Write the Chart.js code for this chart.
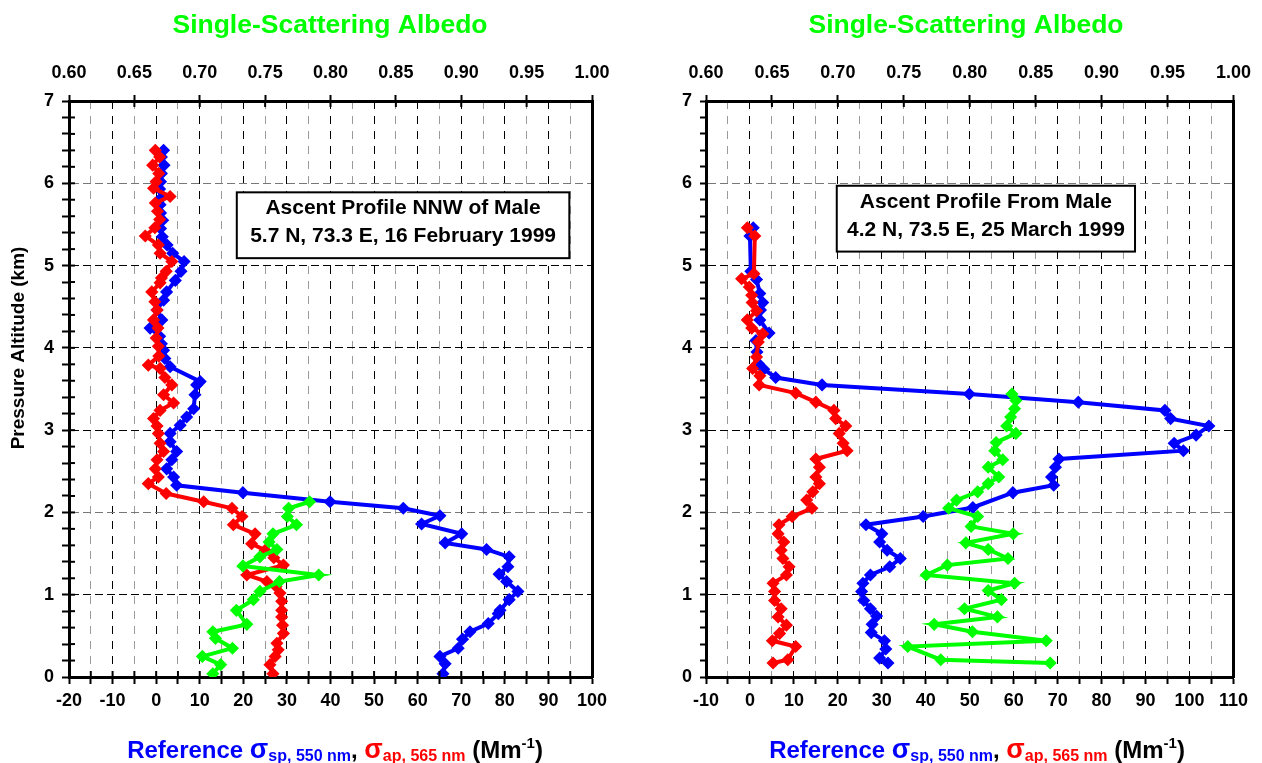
<!DOCTYPE html>
<html><head><meta charset="utf-8">
<script src="https://cdn.jsdelivr.net/npm/chart.js@4.4.0/dist/chart.umd.min.js"></script>
<style>
html,body{margin:0;padding:0;background:#fff;overflow:hidden;}
.wrap{position:absolute;top:0;width:631px;height:763px;}
#wrapL{left:0;} #wrapR{left:631px;}
</style></head><body>
<div class="wrap" id="wrapL"><canvas id="cL"></canvas></div>
<div class="wrap" id="wrapR"><canvas id="cR"></canvas></div>
<script>
const FONT = '"Liberation Sans", Arial, sans-serif';

// ---- Left profile (16 Feb 1999) ----
const leftScatAlt = [6.40,6.32,6.22,6.12,6.02,5.93,5.83,5.74,5.64,5.55,5.45,5.35,5.25,5.15,5.05,4.93,4.82,4.68,4.58,4.46,4.34,4.24,4.14,4.05,3.97,3.87,3.77,3.59,3.55,3.43,3.26,3.16,3.06,2.96,2.86,2.74,2.64,2.53,2.43,2.33,2.24,2.13,2.05,1.96,1.86,1.74,1.63,1.55,1.46,1.34,1.25,1.16,1.04,0.94,0.81,0.77,0.65,0.55,0.46,0.35,0.25,0.16,0.04];
const leftScatVal = [1.7,1.2,1.8,1.2,1.0,0.8,1.3,0.9,1.0,1.5,1.0,1.4,2.5,3.8,6.4,5.7,4.4,2.4,1.7,0.2,1.3,-1.4,0.8,1.2,1.7,2.0,3.2,10.1,9.3,8.9,8.6,7.0,5.5,3.2,3.2,4.7,3.6,2.4,4.0,4.7,19.9,39.9,56.7,65.1,60.9,70.1,66.3,75.8,81.0,80.7,78.7,80.4,83.0,81.0,78.9,78.5,76.2,72.0,70.3,69.3,65.1,66.3,65.8];
const leftAbsAlt = [6.40,6.32,6.22,6.12,6.02,5.94,5.84,5.76,5.66,5.56,5.46,5.36,5.25,5.15,5.05,4.93,4.85,4.79,4.68,4.56,4.46,4.34,4.24,4.12,4.02,3.90,3.79,3.75,3.64,3.55,3.43,3.33,3.24,3.14,3.05,2.96,2.84,2.74,2.64,2.53,2.43,2.35,2.23,2.13,2.05,1.95,1.85,1.74,1.62,1.54,1.45,1.36,1.24,1.16,1.10,1.02,0.92,0.81,0.73,0.63,0.53,0.41,0.33,0.25,0.15,0.04];
const leftAbsVal = [-0.2,0.8,-0.8,0.6,0.0,-0.6,3.2,-0.2,0.3,0.8,-0.3,-2.5,0.5,0.9,3.6,2.3,1.2,0.9,-1.0,-0.3,0.2,-0.6,0.4,0.0,0.5,0.6,-1.8,0.9,2.0,3.6,1.7,4.0,0.9,-0.6,0.2,0.5,0.9,1.7,0.2,-0.2,0.5,-1.8,2.3,10.9,17.4,19.7,17.7,22.7,21.9,25.0,27.0,29.2,20.8,25.4,27.5,28.4,28.8,28.8,28.8,29.0,29.2,27.7,28.0,27.3,26.1,26.8];
const leftAlbAlt = [2.13,2.05,1.95,1.85,1.74,1.64,1.55,1.46,1.35,1.24,1.16,1.04,0.94,0.81,0.64,0.55,0.47,0.35,0.25,0.15,0.04];
const leftAlbVal = [0.784,0.768,0.767,0.774,0.756,0.753,0.759,0.746,0.733,0.791,0.761,0.746,0.741,0.728,0.736,0.710,0.712,0.725,0.702,0.716,0.710];

// ---- Right profile (25 Mar 1999) ----
const rightScatAlt = [5.46,5.36,4.93,4.83,4.66,4.55,4.46,4.34,4.18,4.09,3.95,3.81,3.74,3.64,3.55,3.44,3.34,3.24,3.14,3.05,2.94,2.84,2.75,2.65,2.55,2.43,2.33,2.24,2.06,1.95,1.85,1.74,1.64,1.54,1.44,1.34,1.24,1.14,1.04,0.93,0.83,0.74,0.64,0.54,0.44,0.34,0.23,0.17];
const rightScatVal = [0.75,0.0,0.2,1.5,2.25,2.9,2.4,2.25,4.35,1.35,1.6,1.9,3.15,5.85,16.4,49.9,74.7,94.4,95.7,104.4,101.5,96.5,98.6,70.3,69.5,68.6,69.1,59.8,50.7,39.4,26.4,30.0,29.5,31.2,34.2,31.8,27.4,25.7,25.4,25.9,27.4,28.8,27.8,27.6,30.6,30.9,29.5,31.4];
const rightAbsAlt = [5.46,5.36,4.90,4.84,4.74,4.64,4.55,4.45,4.34,4.24,4.17,4.07,3.89,3.75,3.66,3.55,3.45,3.34,3.24,3.14,3.05,2.96,2.84,2.75,2.65,2.55,2.43,2.35,2.25,2.15,2.05,1.95,1.85,1.74,1.64,1.54,1.44,1.34,1.24,1.14,1.04,0.93,0.83,0.73,0.63,0.53,0.44,0.37,0.21,0.17];
const rightAbsVal = [-0.6,1.1,0.9,-1.9,-0.15,0.4,0.5,1.5,-0.6,0.4,2.9,1.9,1.5,0.6,2.25,2.1,10.4,15.0,19.1,19.5,21.8,20.3,21.2,22.1,15.0,15.8,15.0,15.8,14.3,12.9,14.1,9.6,6.6,6.4,7.7,7.1,7.5,8.9,8.3,5.25,5.6,5.6,7.1,6.4,8.3,6.75,5.1,10.4,8.6,5.25];
const rightAlbAlt = [3.44,3.36,3.26,3.16,3.05,2.96,2.85,2.75,2.64,2.55,2.43,2.35,2.25,2.15,2.05,1.95,1.83,1.74,1.63,1.55,1.44,1.36,1.24,1.14,1.05,0.94,0.83,0.73,0.64,0.55,0.44,0.37,0.21,0.17];
const rightAlbVal = [0.832,0.835,0.834,0.831,0.828,0.835,0.820,0.819,0.825,0.814,0.822,0.814,0.806,0.790,0.784,0.806,0.801,0.833,0.797,0.814,0.829,0.783,0.767,0.834,0.814,0.824,0.796,0.821,0.773,0.802,0.858,0.753,0.778,0.861];

// ---- Axis ranges / labels ----
const leftXRange = [-20, 100];
const rightXRange = [-10, 110];
const albedoRange = [0.60, 1.00];
const altRange = [0, 7];
const topTitle = 'Single-Scattering Albedo';
const yTitle = 'Pressure Altitude (km)';
const leftBoxLines = ['Ascent Profile NNW of Male', '5.7 N, 73.3 E, 16 February 1999'];
const rightBoxLines = ['Ascent Profile From Male', '4.2 N, 73.5 E, 25 March 1999'];

const zip = (alt, val) => alt.map((a, i) => ({x: val[i], y: a}));

const isInt = v => Math.abs(v - Math.round(v)) < 1e-6;

const richPlugin = {
  id: 'rich',
  afterDraw(chart) {
    const o = chart.options.plugins.rich;
    const ctx = chart.ctx;
    const xs = chart.scales.x, ys = chart.scales.y;
    ctx.save();
    // cross ticks (inner parts)
    ctx.strokeStyle = '#000'; ctx.lineWidth = 2;
    const ca = chart.chartArea;
    if (o.crossTop) chart.scales.x2.ticks.forEach(t => {
      const p = chart.scales.x2.getPixelForValue(t.value);
      ctx.beginPath(); ctx.moveTo(p, ca.top); ctx.lineTo(p, ca.top + 6); ctx.stroke();
    });
    if (o.crossBottom) xs.ticks.forEach(t => {
      const p = xs.getPixelForValue(t.value);
      ctx.beginPath(); ctx.moveTo(p, ca.bottom); ctx.lineTo(p, ca.bottom - 6); ctx.stroke();
    });
    if (o.crossLeft) ys.ticks.forEach(t => {
      const p = ys.getPixelForValue(t.value);
      ctx.beginPath(); ctx.moveTo(ca.left, p); ctx.lineTo(ca.left + 6, p); ctx.stroke();
    });
    // annotation box
    const b = o.box;
    const bx0 = xs.getPixelForValue(b.x0), bx1 = xs.getPixelForValue(b.x1);
    const by0 = ys.getPixelForValue(b.y1), by1 = ys.getPixelForValue(b.y0);
    ctx.fillStyle = '#fff'; ctx.fillRect(bx0, by0, bx1 - bx0, by1 - by0);
    ctx.lineWidth = 2; ctx.strokeStyle = '#000';
    ctx.strokeRect(bx0, by0, bx1 - bx0, by1 - by0);
    ctx.fillStyle = '#000'; ctx.textAlign = 'center'; ctx.textBaseline = 'alphabetic';
    ctx.font = 'bold 21px ' + FONT;
    ctx.fillText(b.lines[0], (bx0 + bx1) / 2, by0 + 22);
    ctx.fillText(b.lines[1], (bx0 + bx1) / 2, by0 + 50);
    // top title
    ctx.font = 'bold 26.5px ' + FONT; ctx.fillStyle = '#00ff00';
    ctx.fillText(topTitle, o.titleX, 33);
    // y title
    if (o.showYTitle) {
      ctx.save();
      ctx.translate(24, 348); ctx.rotate(-Math.PI / 2);
      ctx.font = 'bold 19px ' + FONT; ctx.fillStyle = '#000';
      ctx.fillText(yTitle, 0, 0);
      ctx.restore();
    }
    // bottom rich title
    const parts = [
      {t: 'Reference ', s: 24, c: '#0000ff'},
      {t: 'σ', s: 27, c: '#0000ff'},
      {t: 'sp, 550 nm', s: 16, c: '#0000ff', dy: 3},
      {t: ', ', s: 24, c: '#000'},
      {t: 'σ', s: 27, c: '#ff0000'},
      {t: 'ap, 565 nm', s: 16, c: '#ff0000', dy: 3},
      {t: ' (Mm', s: 24, c: '#000'},
      {t: '-1', s: 15, c: '#000', dy: -10},
      {t: ')', s: 24, c: '#000'}
    ];
    let tot = 0;
    parts.forEach(p => { ctx.font = 'bold ' + p.s + 'px ' + FONT; p.w = ctx.measureText(p.t).width; tot += p.w; });
    let x = o.bottomX - tot / 2;
    ctx.textAlign = 'left';
    parts.forEach(p => {
      ctx.font = 'bold ' + p.s + 'px ' + FONT; ctx.fillStyle = p.c;
      ctx.fillText(p.t, x, 758 + (p.dy || 0)); x += p.w;
    });
    ctx.restore();
  }
};

function makeChart(id, cfg) {
  const ds = (label, data, color, xAxisID) => ({
    label, data, xAxisID, yAxisID: 'y', showLine: true, tension: 0,
    borderColor: color, backgroundColor: color, borderWidth: 4,
    pointStyle: 'rectRot', pointRadius: 5.5, pointBorderWidth: 1.5,
    pointBackgroundColor: color, pointBorderColor: color
  });
  const tickFont = {family: FONT, size: 18, weight: 'bold'};
  return new Chart(document.getElementById(id), {
    type: 'scatter',
    data: {datasets: [
      ds('albedo', cfg.alb, '#00ff00', 'x2'),
      ds('abs', cfg.abs, '#ff0000', 'x'),
      ds('scat', cfg.scat, '#0000ff', 'x')
    ]},
    options: {
      responsive: true, maintainAspectRatio: false, animation: false,
      layout: {padding: 0},
      plugins: {legend: {display: false}, tooltip: {enabled: false},
        rich: {box: cfg.box, titleX: cfg.titleX, bottomX: cfg.bottomX, showYTitle: cfg.showYTitle,
               crossTop: true, crossBottom: cfg.cross, crossLeft: cfg.cross}},
      scales: {
        x: {type: 'linear', position: 'bottom', min: cfg.xRange[0], max: cfg.xRange[1],
          afterFit: s => { s.height = 86; },
          ticks: {stepSize: 5, autoSkip: false, maxRotation: 0, minRotation: 0, padding: 6,
            color: '#000', font: tickFont,
            callback: v => (Math.abs(v % 10) < 1e-9 ? String(v) : '')},
          grid: {color: c => (c.tick && Math.abs(c.tick.value % 10) > 1e-9 ? '#9a9a9a' : '#000'),
            lineWidth: 1, tickColor: '#000', tickWidth: 2, tickLength: 7},
          border: {display: true, color: '#000', width: 3, dash: [8, 7]}
        },
        x2: {type: 'linear', position: 'top', min: albedoRange[0], max: albedoRange[1],
          afterFit: s => { s.height = 101; },
          ticks: {stepSize: 0.05, autoSkip: false, maxRotation: 0, minRotation: 0, padding: 11,
            color: '#000', font: tickFont, callback: v => v.toFixed(2)},
          grid: {drawOnChartArea: false, tickColor: '#000', tickWidth: 2, tickLength: 6},
          border: {display: true, color: '#000', width: 3}
        },
        y: {type: 'linear', position: 'left', min: altRange[0], max: altRange[1],
          afterFit: s => { s.width = cfg.yW; },
          ticks: {stepSize: 0.2, autoSkip: false, padding: 8, color: '#000', font: tickFont,
            callback: v => (isInt(v) ? String(Math.round(v)) : '')},
          grid: {color: c => {
              if (!c.tick || !isInt(c.tick.value)) return 'rgba(0,0,0,0)';
              const v = Math.round(c.tick.value);
              return (v === 2 || v === 6) ? '#777' : '#000';
            },
            lineWidth: 1, tickColor: '#000', tickWidth: 2, tickLength: cfg.cross ? 7 : 6},
          border: {display: true, color: '#000', width: 3, dash: [8, 4]}
        },
        yr: {type: 'linear', position: 'right', min: altRange[0], max: altRange[1],
          afterFit: s => { s.width = cfg.rW; },
          ticks: {display: false}, grid: {display: false, drawTicks: false},
          border: {display: true, color: '#000', width: 3}
        }
      }
    },
    plugins: [richPlugin]
  });
}

makeChart('cL', {
  scat: zip(leftScatAlt, leftScatVal), abs: zip(leftAbsAlt, leftAbsVal), alb: zip(leftAlbAlt, leftAlbVal),
  xRange: leftXRange, yW: 69, rW: 39, cross: true, showYTitle: true, titleX: 330, bottomX: 335,
  box: {x0: 18.5, x1: 94.8, y0: 5.09, y1: 5.89, lines: leftBoxLines}
});
makeChart('cR', {
  scat: zip(rightScatAlt, rightScatVal), abs: zip(rightAbsAlt, rightAbsVal), alb: zip(rightAlbAlt, rightAlbVal),
  xRange: rightXRange, yW: 75, rW: 23, cross: false, showYTitle: false, titleX: 335, bottomX: 346,
  box: {x0: 19.75, x1: 87.6, y0: 5.17, y1: 5.97, lines: rightBoxLines}
});
</script>
</body></html>
